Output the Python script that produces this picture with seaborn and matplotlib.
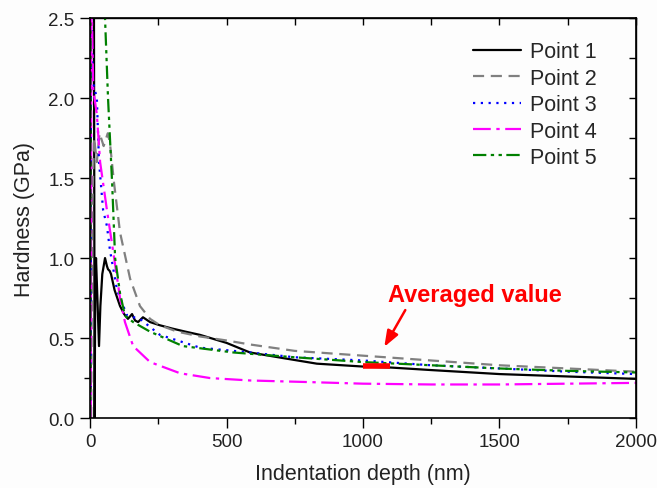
import matplotlib
matplotlib.use("Agg")
import matplotlib.pyplot as plt
import seaborn as sns
import pandas as pd
from matplotlib.ticker import MultipleLocator

sns.set_theme(style="white")
plt.rcParams['font.family'] = ['Liberation Sans', 'DejaVu Sans']

labels = ["Point 1", "Point 2", "Point 3", "Point 4", "Point 5"]

p1_x = [2, 3, 14, 17, 19, 22, 27, 33, 38, 45, 55, 62, 66, 72, 77, 90, 110, 125, 139, 154, 165, 176, 194, 220, 256,
        300, 350, 403, 500, 586, 707, 831, 1000, 1100, 1250, 1500, 1750, 2000]
p1_y = [0.0, 3.0, 3.0, 0.0, 0.8, 1.0, 0.75, 0.45, 0.7, 0.9, 1.0, 0.95, 0.93, 0.92, 0.9, 0.8, 0.7, 0.65, 0.62, 0.65,
        0.61, 0.60, 0.63, 0.60, 0.58, 0.56, 0.54, 0.52, 0.47, 0.41, 0.375, 0.34, 0.322, 0.316, 0.30, 0.275, 0.26, 0.245]

p2_x = [4, 8, 15, 25, 35, 50, 65, 73, 88, 110, 147, 183, 220, 256, 320, 403, 500, 586, 750, 1000, 1250, 1500, 1750, 2000]
p2_y = [0.0, 1.3, 1.75, 1.6, 1.78, 1.7, 1.78, 1.72, 1.47, 1.16, 0.87, 0.70, 0.62, 0.58, 0.54, 0.51, 0.485, 0.46,
        0.42, 0.39, 0.36, 0.33, 0.31, 0.29]

p3_x = [2, 4, 10, 15, 25, 33, 48, 62, 73, 99, 136, 183, 256, 403, 586, 750, 1000, 1250, 1500, 1750, 2000]
p3_y = [0.0, 2.7, 2.1, 2.07, 2.0, 1.6, 1.3, 1.2, 1.05, 0.8, 0.64, 0.62, 0.52, 0.44, 0.41, 0.38, 0.36, 0.33, 0.31,
        0.29, 0.275]

p4_x = [3, 5, 12, 25, 37, 62, 84, 110, 128, 158, 220, 330, 440, 586, 800, 1000, 1250, 1500, 1750, 2000]
p4_y = [0.0, 2.7, 2.05, 1.9, 1.6, 1.3, 1.05, 0.75, 0.6, 0.45, 0.35, 0.28, 0.25, 0.235, 0.225, 0.215, 0.21, 0.21,
        0.215, 0.22]

p5_x = [1, 2, 52, 55, 66, 81, 92, 110, 128, 158, 220, 340, 525, 750, 1000, 1250, 1500, 1750, 2000]
p5_y = [0.0, 3.0, 3.0, 2.5, 2.0, 1.47, 1.0, 0.78, 0.64, 0.60, 0.54, 0.45, 0.41, 0.38, 0.35, 0.33, 0.31, 0.295, 0.285]

avg_x = [1000, 1100]
avg_y = [0.325, 0.325]

series = [(p1_x, p1_y), (p2_x, p2_y), (p3_x, p3_y), (p4_x, p4_y), (p5_x, p5_y)]
colors = ["black", "#808080", "#0000ff", "#ff00ff", "#008000"]
dashes = [(None, None), (5, 3), (1, 2.5), (8, 2.5, 1.5, 2.5), (6, 2, 1.5, 2, 1.5, 2)]

fig = plt.figure(figsize=(6.57, 4.89), dpi=100)
fig.patch.set_facecolor("#fdfdfd")
ax = fig.add_axes([0.137, 0.143, 0.831, 0.818])
ax.set_facecolor("#fdfdfd")

for (x, y), lab, c, d in zip(series, labels, colors, dashes):
    df = pd.DataFrame({"x": x, "y": y})
    sns.lineplot(data=df, x="x", y="y", ax=ax, color=c, label=lab, estimator=None, sort=False,
                 linewidth=1.6)
    l = ax.get_lines()[-1]
    if d[0] is not None:
        l.set_dashes(d)

ax.plot(avg_x, avg_y, color="red", linewidth=4, solid_capstyle="butt")

ax.annotate("", xy=(1073, 0.43), xytext=(1160, 0.69),
            arrowprops=dict(arrowstyle="-|>,head_length=0.8,head_width=0.3", color="red", lw=1.8))
ax.text(1410, 0.77, "Averaged value", color="red", fontsize=17, fontweight="bold", ha="center", va="center")

ax.set_xlim(0, 2000)
ax.set_ylim(0, 2.5)
ax.xaxis.set_major_locator(MultipleLocator(500))
ax.xaxis.set_minor_locator(MultipleLocator(250))
ax.yaxis.set_major_locator(MultipleLocator(0.5))
ax.yaxis.set_minor_locator(MultipleLocator(0.25))
ax.tick_params(which="major", direction="out", length=7, width=1, colors="black", labelsize=13.5,
               bottom=True, left=True, top=False, right=False, pad=4)
ax.tick_params(which="minor", direction="out", length=4, width=1, colors="black",
               bottom=True, left=True, top=False, right=False)
ax.tick_params(labelcolor="#222222")

top = ax.secondary_xaxis("top")
top.xaxis.set_major_locator(MultipleLocator(250))
top.tick_params(direction="in", length=5, width=1, labeltop=False, colors="black")
right = ax.secondary_yaxis("right")
right.yaxis.set_major_locator(MultipleLocator(0.25))
right.tick_params(direction="in", length=5, width=1, labelright=False, colors="black")
for sa in (top, right):
    for s in sa.spines.values():
        s.set_linewidth(1)
        s.set_color("black")

for s in ax.spines.values():
    s.set_color("black")
    s.set_linewidth(1.2)

ax.set_xlabel("Indentation depth (nm)", fontsize=15.5, color="#222222", labelpad=9)
ax.set_ylabel("Hardness (GPa)", fontsize=15.5, color="#222222", labelpad=10)

leg = ax.legend(loc="upper right", frameon=False, fontsize=15.5, handlelength=2.2, labelspacing=0.25,
                handletextpad=0.45, bbox_to_anchor=(0.964, 0.99))

fig.savefig("out.png", dpi=100, facecolor=fig.get_facecolor())
